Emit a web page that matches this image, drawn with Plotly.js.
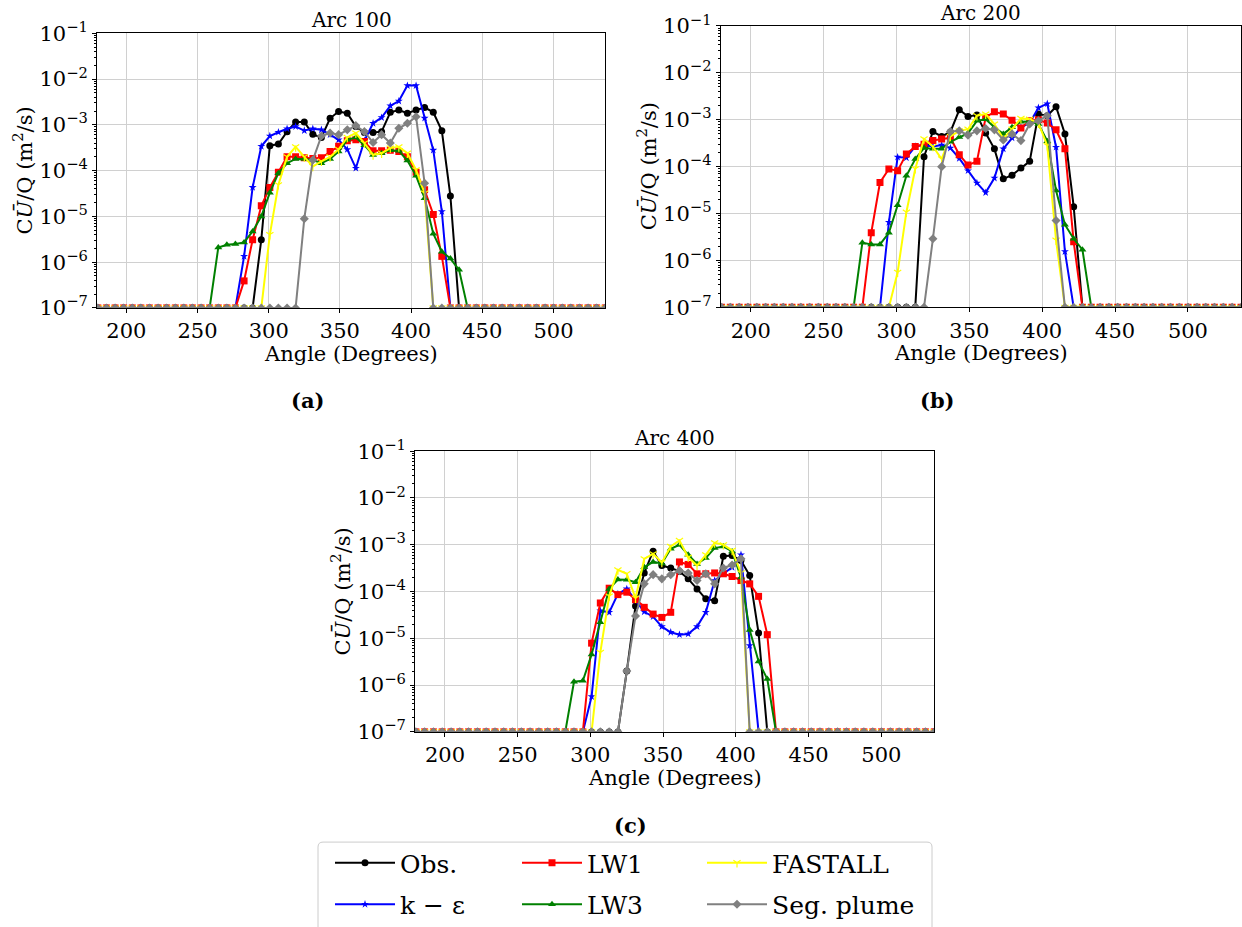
<!DOCTYPE html>
<html>
<head>
<meta charset="utf-8">
<script src="https://cdn.plot.ly/plotly-3.0.1.min.js"></script>
<style>html,body{margin:0;padding:0;background:#fff;}#chart{width:1242px;height:927px;}</style>
</head>
<body>
<div id="chart"></div>
<script>
// Sampler angles (degrees) along each arc
const ANGLES = [180.0,186.0,192.1,198.1,204.2,210.2,216.2,222.3,228.3,234.4,240.4,246.4,252.5,258.5,264.6,270.6,276.6,282.7,288.7,294.8,
  300.8,306.8,312.9,318.9,325.0,331.0,337.0,343.1,349.1,355.2,361.2,367.2,373.3,379.3,385.4,391.4,397.4,403.5,409.5,415.6,
  421.6,427.6,433.7,439.7,445.8,451.8,457.8,463.9,469.9,476.0,482.0,488.0,494.1,500.1,506.2,512.2,518.2,524.3,530.3,536.4];

const SERIES_NAMES = ["Obs.", "k − ε", "LW1", "LW3", "FASTALL", "Seg. plume"];
const PANEL_TITLES = ["Arc 100", "Arc 200", "Arc 400"];
const PANEL_TAGS = ["(a)", "(b)", "(c)"];
const X_TICKS = [200, 250, 300, 350, 400, 450, 500];
const Y_TICKS = [1e-7, 1e-6, 1e-5, 1e-4, 1e-3, 1e-2, 1e-1];
const Y_TICKTEXT = ["10<sup>−7</sup>","10<sup>−6</sup>","10<sup>−5</sup>","10<sup>−4</sup>","10<sup>−3</sup>","10<sup>−2</sup>","10<sup>−1</sup>"];

// ---- Arc 100 ----
const OBS_A = [1e-7,1e-7,1e-7,1e-7,1e-7,1e-7,1e-7,1e-7,1e-7,1e-7,1e-7,1e-7,1e-7,1e-7,1e-7,1e-7,1e-7,1e-7,1e-7,
  3.1e-6,3.5e-4,3.8e-4,7.1e-4,1.16e-3,1.16e-3,6.2e-4,5.3e-4,1.39e-3,1.95e-3,1.79e-3,9.2e-4,6.8e-4,6.8e-4,7.1e-4,1.88e-3,2.1e-3,1.79e-3,2.1e-3,2.4e-3,1.88e-3,7.4e-4,2.8e-5,
  1e-7,1e-7,1e-7,1e-7,1e-7,1e-7,1e-7,1e-7,1e-7,1e-7,1e-7,1e-7,1e-7,1e-7,1e-7,1e-7,1e-7,1e-7];
const KE_A = [1e-7,1e-7,1e-7,1e-7,1e-7,1e-7,1e-7,1e-7,1e-7,1e-7,1e-7,1e-7,1e-7,1e-7,1e-7,1e-7,1e-7,
  1.34e-6,4.3e-5,3.4e-4,5.7e-4,6.9e-4,8.2e-4,9.2e-4,7.5e-4,8.2e-4,7.8e-4,6.1e-4,4.7e-4,2.9e-4,1.13e-4,4.5e-4,1.08e-3,1.44e-3,2.6e-3,3.3e-3,7.2e-3,7.2e-3,1.4e-3,2.8e-4,1.28e-5,
  1e-7,1e-7,1e-7,1e-7,1e-7,1e-7,1e-7,1e-7,1e-7,1e-7,1e-7,1e-7,1e-7,1e-7,1e-7,1e-7,1e-7,1e-7,1e-7];
const LW1_A = [1e-7,1e-7,1e-7,1e-7,1e-7,1e-7,1e-7,1e-7,1e-7,1e-7,1e-7,1e-7,1e-7,1e-7,1e-7,1e-7,1e-7,
  3.9e-7,3.1e-6,1.7e-5,4.3e-5,9.2e-5,2.0e-4,2.0e-4,1.9e-4,1.85e-4,1.9e-4,2.6e-4,3.4e-4,4.5e-4,4.7e-4,4.3e-4,2.7e-4,2.7e-4,2.8e-4,2.6e-4,2.0e-4,9.2e-5,3.8e-5,1.1e-5,1.34e-6,
  1e-7,1e-7,1e-7,1e-7,1e-7,1e-7,1e-7,1e-7,1e-7,1e-7,1e-7,1e-7,1e-7,1e-7,1e-7,1e-7,1e-7,1e-7,1e-7];
const LW3_A = [1e-7,1e-7,1e-7,1e-7,1e-7,1e-7,1e-7,1e-7,1e-7,1e-7,1e-7,1e-7,1e-7,1e-7,
  2.1e-6,2.4e-6,2.5e-6,2.7e-6,4.7e-6,1.0e-5,3.3e-5,8.8e-5,1.45e-4,1.8e-4,1.8e-4,1.7e-4,1.45e-4,1.8e-4,2.6e-4,4.7e-4,5.3e-4,3.6e-4,2.2e-4,2.4e-4,2.8e-4,2.7e-4,1.66e-4,7.7e-5,2.5e-5,4.2e-6,1.7e-6,1.2e-6,6.8e-7,
  1e-7,1e-7,1e-7,1e-7,1e-7,1e-7,1e-7,1e-7,1e-7,1e-7,1e-7,1e-7,1e-7,1e-7,1e-7,1e-7,1e-7];
const FAST_A = [1e-7,1e-7,1e-7,1e-7,1e-7,1e-7,1e-7,1e-7,1e-7,1e-7,1e-7,1e-7,1e-7,1e-7,1e-7,1e-7,1e-7,1e-7,1e-7,1e-7,
  4.0e-6,4.9e-5,2.0e-4,3.3e-4,2.0e-4,1.23e-4,1.6e-4,2.0e-4,2.9e-4,5.3e-4,6.6e-4,4.0e-4,2.2e-4,2.4e-4,3.1e-4,3.3e-4,2.4e-4,1.04e-4,3.2e-5,
  1e-7,1e-7,1e-7,1e-7,1e-7,1e-7,1e-7,1e-7,1e-7,1e-7,1e-7,1e-7,1e-7,1e-7,1e-7,1e-7,1e-7,1e-7,1e-7,1e-7,1e-7];
const SEG_A = [1e-7,1e-7,1e-7,1e-7,1e-7,1e-7,1e-7,1e-7,1e-7,1e-7,1e-7,1e-7,1e-7,1e-7,1e-7,1e-7,1e-7,1e-7,1e-7,1e-7,1e-7,1e-7,1e-7,1e-7,
  8.9e-6,1.7e-4,5.7e-4,6.6e-4,6.1e-4,7.8e-4,9.6e-4,7.1e-4,4.1e-4,6.1e-4,4.0e-4,8.4e-4,1.08e-3,1.5e-3,5.3e-5,
  1e-7,1e-7,1e-7,1e-7,1e-7,1e-7,1e-7,1e-7,1e-7,1e-7,1e-7,1e-7,1e-7,1e-7,1e-7,1e-7,1e-7,1e-7,1e-7,1e-7,1e-7];

// ---- Arc 200 ----
const OBS_B = [1e-7,1e-7,1e-7,1e-7,1e-7,1e-7,1e-7,1e-7,1e-7,1e-7,1e-7,1e-7,1e-7,1e-7,1e-7,1e-7,1e-7,1e-7,1e-7,1e-7,1e-7,1e-7,1e-7,
  1.63e-4,5.6e-4,4.4e-4,5.5e-4,1.63e-3,1.18e-3,1.26e-3,5.2e-4,2.4e-4,5.5e-5,6.6e-5,9.4e-5,1.3e-4,1.32e-3,1.22e-3,1.9e-3,5.0e-4,1.4e-5,
  1e-7,1e-7,1e-7,1e-7,1e-7,1e-7,1e-7,1e-7,1e-7,1e-7,1e-7,1e-7,1e-7,1e-7,1e-7,1e-7,1e-7,1e-7,1e-7];
const KE_B = [1e-7,1e-7,1e-7,1e-7,1e-7,1e-7,1e-7,1e-7,1e-7,1e-7,1e-7,1e-7,1e-7,1e-7,1e-7,1e-7,1e-7,1e-7,1e-7,
  6.5e-6,1.6e-4,1.55e-4,2.7e-4,2.9e-4,2.7e-4,2.9e-4,2.5e-4,1.5e-4,8.2e-5,4.5e-5,2.8e-5,5.7e-5,2.4e-4,4.1e-4,6.9e-4,8.5e-4,1.8e-3,2.2e-3,2.6e-4,1.55e-6,
  1e-7,1e-7,1e-7,1e-7,1e-7,1e-7,1e-7,1e-7,1e-7,1e-7,1e-7,1e-7,1e-7,1e-7,1e-7,1e-7,1e-7,1e-7,1e-7,1e-7];
const LW1_B = [1e-7,1e-7,1e-7,1e-7,1e-7,1e-7,1e-7,1e-7,1e-7,1e-7,1e-7,1e-7,1e-7,1e-7,1e-7,1e-7,1e-7,
  3.9e-6,4.6e-5,8.9e-5,8.2e-5,1.86e-4,2.7e-4,3.0e-4,3.6e-4,3.9e-4,4.1e-4,1.8e-4,1.08e-4,1.3e-4,1.12e-3,1.48e-3,1.32e-3,9.8e-4,6.7e-4,9.5e-4,1.0e-3,8.5e-4,6.1e-4,2.4e-4,2.5e-6,
  1e-7,1e-7,1e-7,1e-7,1e-7,1e-7,1e-7,1e-7,1e-7,1e-7,1e-7,1e-7,1e-7,1e-7,1e-7,1e-7,1e-7,1e-7,1e-7];
const LW3_B = [1e-7,1e-7,1e-7,1e-7,1e-7,1e-7,1e-7,1e-7,1e-7,1e-7,1e-7,1e-7,1e-7,1e-7,1e-7,1e-7,
  2.4e-6,2.2e-6,2.2e-6,3.9e-6,1.5e-5,6.4e-5,1.46e-4,2.5e-4,2.4e-4,2.4e-4,3.4e-4,4.3e-4,5.2e-4,9.5e-4,1.03e-3,6.9e-4,5.0e-4,6.9e-4,9.1e-4,9.2e-4,8.1e-4,3.5e-4,3.1e-5,5.8e-6,2.9e-6,1.7e-6,
  1e-7,1e-7,1e-7,1e-7,1e-7,1e-7,1e-7,1e-7,1e-7,1e-7,1e-7,1e-7,1e-7,1e-7,1e-7,1e-7,1e-7,1e-7];
const FAST_B = [1e-7,1e-7,1e-7,1e-7,1e-7,1e-7,1e-7,1e-7,1e-7,1e-7,1e-7,1e-7,1e-7,1e-7,1e-7,1e-7,1e-7,1e-7,1e-7,1e-7,
  5.6e-7,1.07e-5,9.0e-5,3.9e-4,2.7e-4,1.46e-4,4.4e-4,5.8e-4,6.3e-4,1.22e-3,1.32e-3,8.1e-4,4.0e-4,6.3e-4,1.07e-3,1.03e-3,8.5e-4,2.8e-4,2.7e-6,
  1e-7,1e-7,1e-7,1e-7,1e-7,1e-7,1e-7,1e-7,1e-7,1e-7,1e-7,1e-7,1e-7,1e-7,1e-7,1e-7,1e-7,1e-7,1e-7,1e-7,1e-7];
const SEG_B = [1e-7,1e-7,1e-7,1e-7,1e-7,1e-7,1e-7,1e-7,1e-7,1e-7,1e-7,1e-7,1e-7,1e-7,1e-7,1e-7,1e-7,1e-7,1e-7,1e-7,1e-7,1e-7,1e-7,1e-7,
  2.9e-6,1.0e-4,5.6e-4,5.8e-4,4.7e-4,5.8e-4,6.5e-4,6.1e-4,3.7e-4,5.0e-4,3.6e-4,8.1e-4,9.5e-4,1.22e-3,7.1e-6,
  1e-7,1e-7,1e-7,1e-7,1e-7,1e-7,1e-7,1e-7,1e-7,1e-7,1e-7,1e-7,1e-7,1e-7,1e-7,1e-7,1e-7,1e-7,1e-7,1e-7,1e-7];

// ---- Arc 400 ----
const OBS_C = [1e-7,1e-7,1e-7,1e-7,1e-7,1e-7,1e-7,1e-7,1e-7,1e-7,1e-7,1e-7,1e-7,1e-7,1e-7,1e-7,1e-7,1e-7,1e-7,1e-7,1e-7,1e-7,1e-7,1e-7,
  2.0e-6,4.9e-5,2.5e-4,7.3e-4,3.6e-4,3.2e-4,2.7e-4,1.87e-4,1.14e-4,7.0e-5,6.4e-5,5.7e-4,5.9e-4,4.6e-4,2.2e-4,1.3e-5,
  1e-7,1e-7,1e-7,1e-7,1e-7,1e-7,1e-7,1e-7,1e-7,1e-7,1e-7,1e-7,1e-7,1e-7,1e-7,1e-7,1e-7,1e-7,1e-7,1e-7];
const KE_C = [1e-7,1e-7,1e-7,1e-7,1e-7,1e-7,1e-7,1e-7,1e-7,1e-7,1e-7,1e-7,1e-7,1e-7,1e-7,1e-7,1e-7,1e-7,1e-7,1e-7,
  5.7e-7,3.9e-5,3.6e-5,8.9e-5,1.14e-4,6.4e-5,3.7e-5,2.9e-5,1.78e-5,1.35e-5,1.2e-5,1.24e-5,1.78e-5,3.6e-5,1.72e-4,2.4e-4,3.3e-4,6.1e-4,7.0e-6,
  1e-7,1e-7,1e-7,1e-7,1e-7,1e-7,1e-7,1e-7,1e-7,1e-7,1e-7,1e-7,1e-7,1e-7,1e-7,1e-7,1e-7,1e-7,1e-7,1e-7,1e-7];
const LW1_C = [1e-7,1e-7,1e-7,1e-7,1e-7,1e-7,1e-7,1e-7,1e-7,1e-7,1e-7,1e-7,1e-7,1e-7,1e-7,1e-7,1e-7,1e-7,1e-7,1e-7,
  7.9e-6,5.7e-5,1.18e-4,8.6e-5,9.7e-5,6.7e-5,4.6e-5,3.3e-5,2.8e-5,3.6e-5,4.3e-4,3.8e-4,2.4e-4,2.4e-4,2.5e-4,2.4e-4,2.1e-4,1.72e-4,1.46e-4,7.9e-5,1.2e-5,
  1e-7,1e-7,1e-7,1e-7,1e-7,1e-7,1e-7,1e-7,1e-7,1e-7,1e-7,1e-7,1e-7,1e-7,1e-7,1e-7,1e-7,1e-7,1e-7];
const LW3_C = [1e-7,1e-7,1e-7,1e-7,1e-7,1e-7,1e-7,1e-7,1e-7,1e-7,1e-7,1e-7,1e-7,1e-7,1e-7,1e-7,1e-7,1e-7,
  1.18e-6,1.24e-6,4.5e-6,2.2e-5,1.14e-4,1.8e-4,1.78e-4,1.58e-4,3.3e-4,4.3e-4,4.0e-4,8.2e-4,1.0e-3,6.1e-4,3.9e-4,5.2e-4,8.5e-4,9.2e-4,7.2e-4,2.0e-4,1.5e-5,3.2e-6,1.35e-6,
  1e-7,1e-7,1e-7,1e-7,1e-7,1e-7,1e-7,1e-7,1e-7,1e-7,1e-7,1e-7,1e-7,1e-7,1e-7,1e-7,1e-7,1e-7,1e-7];
const FAST_C = [1e-7,1e-7,1e-7,1e-7,1e-7,1e-7,1e-7,1e-7,1e-7,1e-7,1e-7,1e-7,1e-7,1e-7,1e-7,1e-7,1e-7,1e-7,1e-7,1e-7,1e-7,
  5.0e-6,8.0e-5,2.9e-4,2.4e-4,7.2e-5,5.0e-4,6.4e-4,4.2e-4,9.2e-4,1.24e-3,5.4e-4,3.6e-4,6.1e-4,1.1e-3,1.0e-3,7.6e-4,2.5e-4,
  1e-7,1e-7,1e-7,1e-7,1e-7,1e-7,1e-7,1e-7,1e-7,1e-7,1e-7,1e-7,1e-7,1e-7,1e-7,1e-7,1e-7,1e-7,1e-7,1e-7,1e-7,1e-7];
const SEG_C = [1e-7,1e-7,1e-7,1e-7,1e-7,1e-7,1e-7,1e-7,1e-7,1e-7,1e-7,1e-7,1e-7,1e-7,1e-7,1e-7,1e-7,1e-7,1e-7,1e-7,1e-7,1e-7,1e-7,1e-7,
  2.0e-6,3.0e-5,1.46e-4,2.3e-4,1.87e-4,2.3e-4,2.8e-4,2.5e-4,1.72e-4,2.4e-4,1.46e-4,3.2e-4,3.7e-4,5.0e-4,
  1e-7,1e-7,1e-7,1e-7,1e-7,1e-7,1e-7,1e-7,1e-7,1e-7,1e-7,1e-7,1e-7,1e-7,1e-7,1e-7,1e-7,1e-7,1e-7,1e-7,1e-7,1e-7];

const PANELS = [
  [OBS_A, KE_A, LW1_A, LW3_A, FAST_A, SEG_A],
  [OBS_B, KE_B, LW1_B, LW3_B, FAST_B, SEG_B],
  [OBS_C, KE_C, LW1_C, LW3_C, FAST_C, SEG_C]
];

// ---- styling ----
const FONT = "DejaVu Serif";
const STYLES = [
  {color: "#000000", symbol: "circle", size: 7},
  {color: "#0000ff", symbol: "star", size: 6},
  {color: "#ff0000", symbol: "square", size: 7},
  {color: "#008000", symbol: "triangle-up", size: 7},
  {color: "#ffff00", symbol: "y-down", size: 6},
  {color: "#808080", symbol: "diamond", size: 7}
];
// legend columns (matplotlib ncol=3 fills column-wise)
const LEGEND_OF = ["legend", "legend", "legend2", "legend2", "legend3", "legend3"];

const W = 1242, H = 927;
const BOX = [ // [left, right, top, bottom] in px
  [97, 605, 33.3, 308.3],
  [720.7, 1240.7, 26, 307.7],
  [415, 934, 451.7, 732.7]
];
const px = v => v / W, py = v => 1 - v / H;

const data = [];
PANELS.forEach((series, p) => {
  const ax = p === 0 ? "" : String(p + 1);
  series.forEach((vals, s) => {
    const st = STYLES[s];
    const isY = st.symbol === "y-down";
    data.push({
      type: "scatter", mode: "lines+markers",
      x: ANGLES, y: vals,
      xaxis: "x" + ax, yaxis: "y" + ax,
      name: SERIES_NAMES[s],
      legend: LEGEND_OF[s],
      legendgroup: "g" + s,
      showlegend: p === 0,
      line: {color: st.color, width: 2},
      marker: isY ? {symbol: st.symbol, size: st.size, color: st.color, line: {color: st.color, width: 1.2}}
                  : {symbol: st.symbol, size: st.size, color: st.color, line: {width: 0}},
      hoverinfo: "x+y+name"
    });
  });
});

const layout = {
  width: W, height: H,
  margin: {l: 0, r: 0, t: 0, b: 0},
  paper_bgcolor: "#ffffff", plot_bgcolor: "#ffffff",
  font: {family: FONT, color: "#000000"},
  showlegend: true,
  annotations: [],
  shapes: []
};

BOX.forEach((b, p) => {
  const sx = p === 0 ? "" : String(p + 1);
  layout["xaxis" + sx] = {
    domain: [px(b[0]), px(b[1])],
    anchor: "y" + sx,
    range: [179.4, 536.2],
    tickvals: X_TICKS, ticktext: X_TICKS.map(String),
    ticks: "outside", ticklen: 4, tickwidth: 1, tickcolor: "#000",
    showgrid: true, gridcolor: "#d0d0d0", gridwidth: 1,
    showline: true, mirror: true, linecolor: "#000", linewidth: 1,
    zeroline: false,
    tickfont: {family: FONT, size: 21, color: "#000"}
  };
  layout["yaxis" + sx] = {
    domain: [py(b[3]), py(b[2])],
    anchor: "x" + sx,
    type: "log", range: [-7, -1],
    tickvals: Y_TICKS, ticktext: Y_TICKTEXT,
    ticks: "outside", ticklen: 4, tickwidth: 1, tickcolor: "#000",
    minor: {ticks: "outside", ticklen: 2, tickcolor: "#000", showgrid: false, dtick: "D1"},
    showgrid: true, gridcolor: "#d0d0d0", gridwidth: 1,
    showline: true, mirror: true, linecolor: "#000", linewidth: 1,
    zeroline: false,
    tickfont: {family: FONT, size: 21, color: "#000"}
  };
  const cx = (b[0] + b[1]) / 2;
  const cy = (b[2] + b[3]) / 2;
  const base = {xref: "paper", yref: "paper", showarrow: false, xanchor: "center", yanchor: "middle"};
  layout.annotations.push(Object.assign({}, base, {text: PANEL_TITLES[p], x: px(cx), y: py(b[2] - 13), font: {family: FONT, size: 20, color: "#000"}}));
  layout.annotations.push(Object.assign({}, base, {text: "Angle (Degrees)", x: px(cx), y: py(b[3] + 46), font: {family: FONT, size: 21, color: "#000"}}));
  layout.annotations.push(Object.assign({}, base, {text: "C<i>Ū</i>/Q (m<sup>2</sup>/s)", textangle: -90, x: px(b[0] - 74), y: py(cy), font: {family: FONT, size: 21, color: "#000"}}));
});
const TAGPOS = [[307, 401], [937, 401], [630, 826]];
TAGPOS.forEach((t, p) => {
  layout.annotations.push({xref: "paper", yref: "paper", showarrow: false, xanchor: "center", yanchor: "middle",
    text: "<b>" + PANEL_TAGS[p] + "</b>", x: px(t[0]), y: py(t[1]), font: {family: FONT, size: 21, color: "#000"}});
});

// legend frame
(function() {
  const x0 = px(318), x1 = px(932), yt = py(843), yb = py(960);
  const rx = 5 / W, ry = 5 / H;
  layout.shapes.push({
    type: "path", xref: "paper", yref: "paper", layer: "above",
    path: `M ${x0},${yb} L ${x0},${yt - ry} Q ${x0},${yt} ${x0 + rx},${yt} L ${x1 - rx},${yt} Q ${x1},${yt} ${x1},${yt - ry} L ${x1},${yb} Z`,
    line: {color: "#cccccc", width: 1}, fillcolor: "rgba(255,255,255,0.85)"
  });
})();

const legendBase = {
  orientation: "v", xanchor: "left", yanchor: "middle",
  bgcolor: "rgba(0,0,0,0)", borderwidth: 0,
  font: {family: FONT, size: 25, color: "#000"},
  itemwidth: 60, traceorder: "grouped", tracegroupgap: 6, valign: "middle"
};
const LEG_Y = py(884);
layout.legend = Object.assign({}, legendBase, {x: px(330), y: LEG_Y});
layout.legend2 = Object.assign({}, legendBase, {x: px(517), y: LEG_Y});
layout.legend3 = Object.assign({}, legendBase, {x: px(702), y: LEG_Y});

Plotly.newPlot("chart", data, layout, {displayModeBar: false, staticPlot: true});
</script>
</body>
</html>
